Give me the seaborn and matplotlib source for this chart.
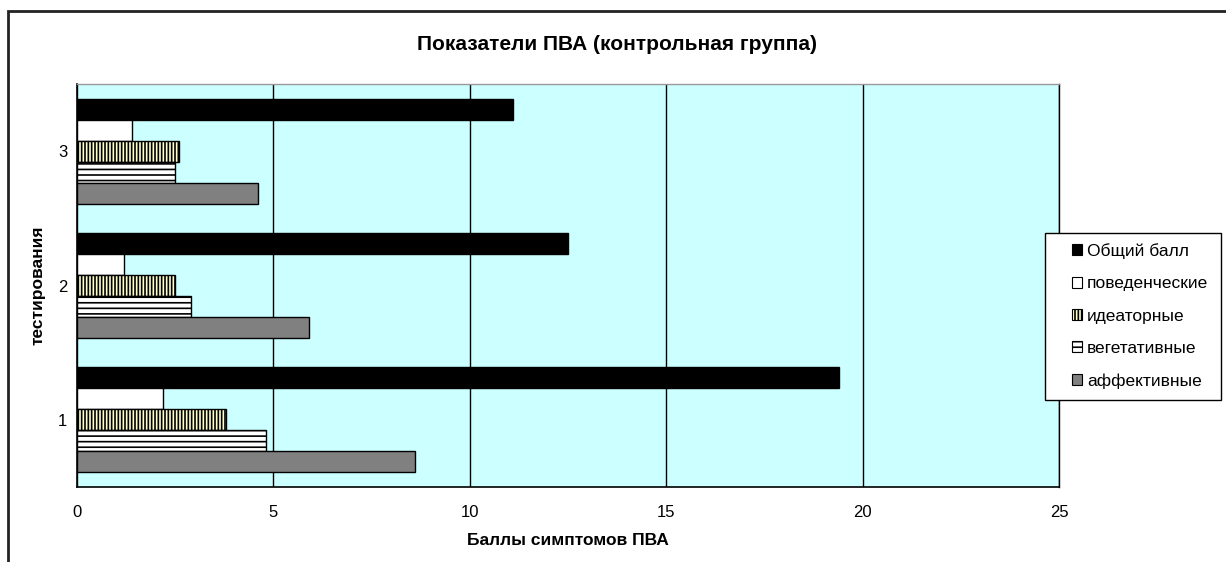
import matplotlib
matplotlib.use("Agg")
import matplotlib.pyplot as plt
import seaborn as sns
import pandas as pd
from matplotlib.patches import Rectangle

# Data
sessions = ["1", "2", "3"]
total = [19.4, 12.5, 11.1]
behavioral = [2.2, 1.2, 1.4]
ideational = [3.8, 2.5, 2.6]
vegetative = [4.8, 2.9, 2.5]
affective = [8.6, 5.9, 4.6]

series_names = ["Общий балл", "поведенческие", "идеаторные", "вегетативные", "аффективные"]
series_values = [total, behavioral, ideational, vegetative, affective]

rows = []
for name, vals in zip(series_names, series_values):
    for s, v in zip(sessions, vals):
        rows.append({"session": s, "series": name, "value": v})
df = pd.DataFrame(rows)

sns.set_style("white")
plt.rcParams["font.family"] = ["Liberation Sans", "DejaVu Sans"]
plt.rcParams["text.color"] = "black"
plt.rcParams["axes.labelcolor"] = "black"
plt.rcParams["xtick.color"] = "black"
plt.rcParams["ytick.color"] = "black"
plt.rcParams["hatch.linewidth"] = 1.2
plt.rcParams["hatch.color"] = "black"

fig = plt.figure(figsize=(12.26, 5.62), dpi=100)
ax = fig.add_axes([77 / 1226, 1 - 487 / 562, (1059 - 77) / 1226, (487 - 84) / 562])
ax.set_facecolor("#CCFFFF")

styles = {
    "Общий балл": dict(fc="black", hatch=None),
    "поведенческие": dict(fc="white", hatch=None),
    "идеаторные": dict(fc="#FFFFCC", hatch="|||||"),
    "вегетативные": dict(fc="white", hatch="---"),
    "аффективные": dict(fc="#808080", hatch=None),
}
palette = {k: v["fc"] for k, v in styles.items()}

sns.barplot(data=df, x="value", y="session", hue="series", order=["3", "2", "1"],
            hue_order=series_names, palette=palette, orient="h", width=0.78,
            edgecolor="black", linewidth=1.0, saturation=1, ax=ax, legend=False,
            zorder=3)

for cont, name in zip(ax.containers, series_names):
    for bar in cont:
        h = styles[name]["hatch"]
        if h:
            bar.set_hatch(h)

ax.set_xlim(0, 25)
ax.set_ylim(2.5, -0.5)
ax.set_xticks([0, 5, 10, 15, 20, 25])
ax.grid(axis="x", color="black", linewidth=1.0, zorder=1)
ax.set_axisbelow(True)

ax.set_yticks([0, 1, 2])
ax.set_yticklabels(["3", "2", "1"])
ax.set_yticks([-0.5, 0.5, 1.5, 2.5], minor=True)
ax.tick_params(axis="y", which="major", length=0, pad=7, labelsize=12)
ax.tick_params(axis="y", which="minor", length=6, width=1, color="black", direction="out")
ax.tick_params(axis="x", length=5, width=1, color="black", direction="out", labelsize=12, pad=8)

for side in ["left", "bottom"]:
    ax.spines[side].set_color("black")
    ax.spines[side].set_linewidth(1.2)
ax.spines["top"].set_color("#999999")
ax.spines["top"].set_linewidth(1.0)
ax.spines["right"].set_color("black")
ax.spines["right"].set_linewidth(1.0)

ax.set_xlabel("Баллы симптомов ПВА", fontsize=12.5, fontweight="bold", labelpad=9)
ax.set_ylabel("тестирования", fontsize=12.5, fontweight="bold", labelpad=9)

fig.text(617 / 1226, 1 - 45 / 562, "Показатели ПВА (контрольная группа)",
         ha="center", va="center", fontsize=15, fontweight="bold")

# Outer chart frame
fig.add_artist(Rectangle((8 / 1226, -0.05), 1.2, 1 - 11 / 562 + 0.05,
                         transform=fig.transFigure, fill=False,
                         edgecolor="#222222", linewidth=2.0))

# Legend frame
fig.add_artist(Rectangle((1045 / 1226, 1 - 400 / 562), (1221 - 1045) / 1226, (400 - 233) / 562,
                         transform=fig.transFigure, facecolor="white",
                         edgecolor="black", linewidth=1.0))

handles = []
for name in series_names:
    st = styles[name]
    handles.append(Rectangle((0, 0), 1, 1, facecolor=st["fc"], edgecolor="black",
                             linewidth=0.8, hatch=st["hatch"]))
leg = fig.legend(handles, series_names, loc="center left",
                 bbox_to_anchor=(1072 / 1226, 1 - 316 / 562),
                 frameon=False, fontsize=12.5, handlelength=0.6, handleheight=0.6,
                 handletextpad=0.25, labelspacing=1.0, borderpad=0.0,
                 borderaxespad=0)

fig.savefig("out.png", dpi=100, facecolor="white")
